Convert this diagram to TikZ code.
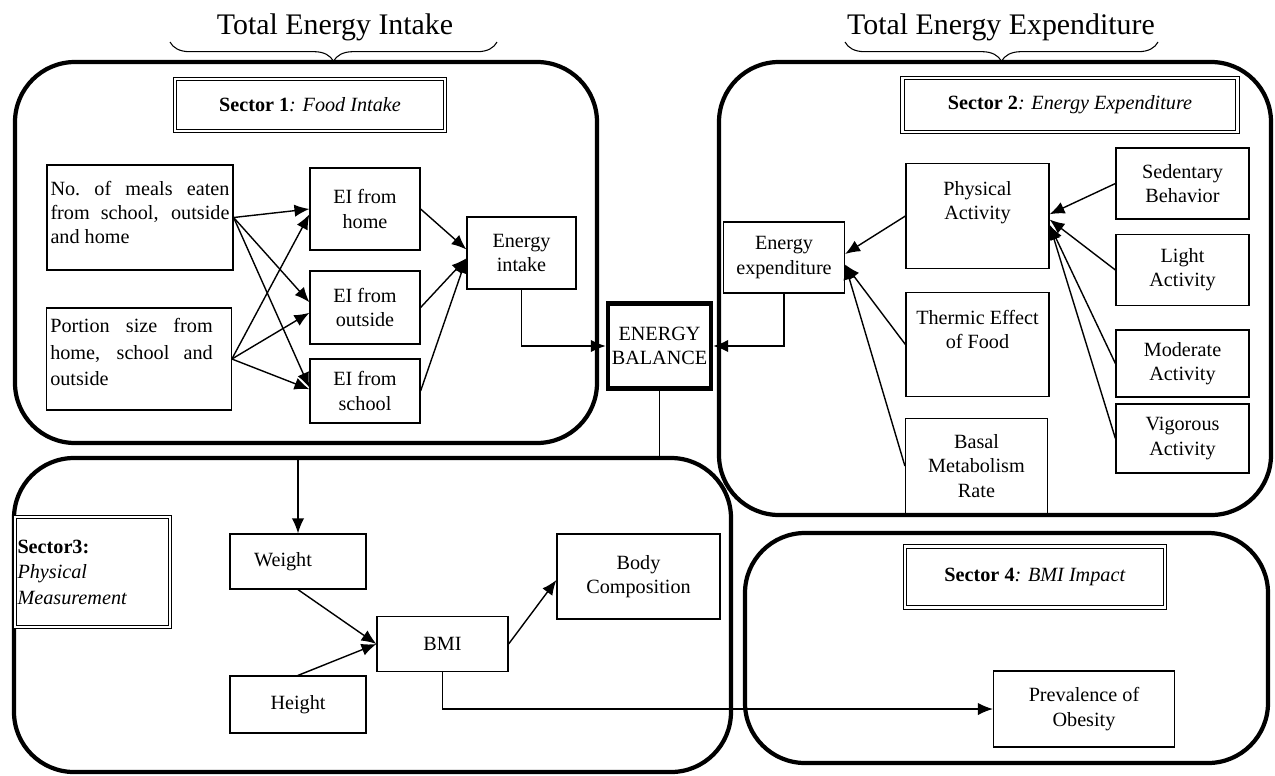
\documentclass[tikz,border=0pt]{standalone}
\usepackage{fontspec}
\setmainfont{Liberation Serif}
\usetikzlibrary{arrows.meta, positioning, calc, decorations.pathreplacing}

% text block fixed to the top of a box
\newcommand{\topbox}[4]{\parbox[c][#1][t]{#2}{\vspace*{#3}\centering #4}}

\begin{document}
\begin{tikzpicture}[x=0.02cm, y=-0.02cm,
  font=\fontsize{11.5}{13.8}\selectfont,
  sector/.style={draw, line width=2.4pt, rounded corners=1.2cm},
  box/.style={draw, line width=0.7pt, align=center, inner sep=2pt},
  titlebox/.style={draw, double, double distance=1.6pt, line width=0.6pt, align=center},
  conn/.style={line width=0.8pt, -{Latex[length=8.5pt,width=7pt]}},
  brace/.style={decorate, decoration={brace, mirror, amplitude=11pt}, line width=0.6pt},
  heading/.style={font=\fontsize{17}{20}\selectfont}]

\useasboundingbox (0,0) rectangle (1275,775);

% Headings
\node[heading] (intakehead) at (335,27) {Total Energy Intake};
\node[heading] (expendhead) at (1001,27) {Total Energy Expenditure};
\draw[brace] (170,42) -- (497,42);
\draw[brace] (845,42) -- (1158,42);

% Sector outlines
\draw[sector] (15,62) rectangle (597,443);
\draw[sector] (719,62) rectangle (1271,515);
\draw[sector] (14,458) rectangle (731,772);
\draw[sector] (745,533) rectangle (1268,763);
\coordinate (s3top) at (0,458);

% Sector 1: food intake
\node[titlebox, minimum width=5.4cm, minimum height=1.04cm] (title1) at (310,105) {\textbf{Sector 1}\textit{: Food Intake}};
\node[box, minimum width=3.68cm, minimum height=2.1cm] (meals) at (140,217.5)
  {\parbox[c][1.95cm][t]{3.58cm}{\vspace*{7pt}No.\ of meals eaten\linebreak from school, outside\linebreak and home}};
\node[box, minimum width=3.64cm, minimum height=2.04cm] (portion) at (139,359)
  {\parbox[c][1.9cm][t]{3.55cm}{\rightskip=0.3cm\baselineskip=15pt\vspace*{4pt}Portion size from\linebreak home, school and\linebreak outside}};
\node[box, minimum width=2.2cm, minimum height=1.64cm] (home) at (365,209) {EI from\\home};
\node[box, minimum width=2.2cm, minimum height=1.46cm] (outside) at (365,307.5) {EI from\\outside};
\node[box, minimum width=2.2cm, minimum height=1.28cm] (school) at (365,391) {EI from\\school};
\node[box, minimum width=2.18cm, minimum height=1.44cm] (intake) at (521.5,253) {Energy\\intake};

% Energy balance
\node[box, line width=2.5pt, minimum width=2.06cm, minimum height=1.7cm, inner sep=1pt] (balance) at (659.5,346) {ENERGY\\BALANCE};

% Sector 2: energy expenditure
\node[titlebox, minimum width=6.7cm, minimum height=1.08cm] (title2) at (1070,105) {\textbf{Sector 2}\textit{: Energy Expenditure}};
\node[box, minimum width=2.42cm, minimum height=1.42cm] (expend) at (784,257.5) {Energy\\expenditure};
\node[box, minimum width=2.86cm, minimum height=2.08cm] (physical) at (977.5,216)
  {\topbox{1.95cm}{2.7cm}{8pt}{Physical\\Activity}};
\node[box, minimum width=2.86cm, minimum height=2.06cm] (thermic) at (977.5,344.5)
  {\topbox{1.95cm}{2.7cm}{8pt}{Thermic Effect\\of Food}};
\node[box, minimum width=2.84cm, minimum height=1.9cm] (basal) at (976.5,466) {Basal\\Metabolism\\Rate};
\node[box, minimum width=2.66cm, minimum height=1.42cm] (sedentary) at (1182.5,183.5) {Sedentary\\Behavior};
\node[box, minimum width=2.66cm, minimum height=1.42cm] (light) at (1182.5,270) {Light\\Activity};
\node[box, minimum width=2.66cm, minimum height=1.34cm] (moderate) at (1182.5,363.5) {Moderate\\Activity};
\node[box, minimum width=2.66cm, minimum height=1.38cm] (vigorous) at (1182.5,438.5) {Vigorous\\Activity};

% Sector 3: physical measurement
\node[titlebox, minimum width=3.1cm, minimum height=2.2cm, inner xsep=0pt] (title3) at (92.5,572)
  {\parbox{3cm}{\raggedright\baselineskip=14.5pt\textbf{Sector3:}\\\textit{Physical}\\\textit{Measurement}}};
\node[box, minimum width=2.72cm, minimum height=1.1cm] (weight) at (298,561.5) {Weight\hspace*{0.6cm}};
\node[box, minimum width=2.72cm, minimum height=1.14cm] (height) at (298,704.5) {Height};
\node[box, minimum width=2.62cm, minimum height=1.1cm] (bmi) at (442.5,644) {BMI};
\node[box, minimum width=3.26cm, minimum height=1.7cm] (body) at (638.5,576.5) {Body\\Composition};

% Sector 4: BMI impact
\node[titlebox, minimum width=5.2cm, minimum height=1.22cm] (title4) at (1035,577) {\textbf{Sector 4}\textit{: BMI Impact}};
\node[box, minimum width=3.62cm, minimum height=1.52cm] (obesity) at (1084,709) {Prevalence of\\Obesity};

% Connectors, sector 1
\draw[conn] (meals.east) -- (home.west);
\draw[conn] (meals.east) -- ([yshift=3pt]outside.west);
\draw[conn] (meals.east) -- ([yshift=2pt]school.west);
\draw[conn] (portion.east) -- ([yshift=-3pt]home.west);
\draw[conn] (portion.east) -- ([yshift=-3pt]outside.west);
\draw[conn] (portion.east) -- ([yshift=1pt]school.west);
\draw[conn] (home.east) -- ([yshift=2pt]intake.west);
\draw[conn] (outside.east) -- ([yshift=-3pt]intake.west);
\draw[conn] (school.east) -- ([yshift=-3pt]intake.west);
\draw[conn] (intake.south) |- (balance.west);

% Connectors, sector 2
\draw[conn] (sedentary.west) -- ([yshift=1pt]physical.east);
\draw[conn] (light.west) -- ([yshift=-2pt]physical.east);
\draw[conn] (moderate.west) -- ([yshift=-5pt]physical.east);
\draw[conn] (vigorous.west) -- ([yshift=-5pt]physical.east);
\draw[conn] (physical.west) -- ([yshift=2pt]expend.east);
\draw[conn] (thermic.west) -- ([yshift=-4pt]expend.east);
\draw[conn] (basal.west) -- ([yshift=-4pt]expend.east);
\draw[conn] (expend.south) |- (balance.east);

% Connectors, sectors 3 and 4
\draw[conn] (balance.south) |- (s3top -| weight.north) -- (weight.north);
\draw[conn] (weight.south) -- (bmi.west);
\draw[conn] (height.north) -- (bmi.west);
\draw[conn] (bmi.east) -- ([yshift=-2pt]body.west);
\draw[conn] (bmi.south) |- (obesity.west);
\end{tikzpicture}
\end{document}
